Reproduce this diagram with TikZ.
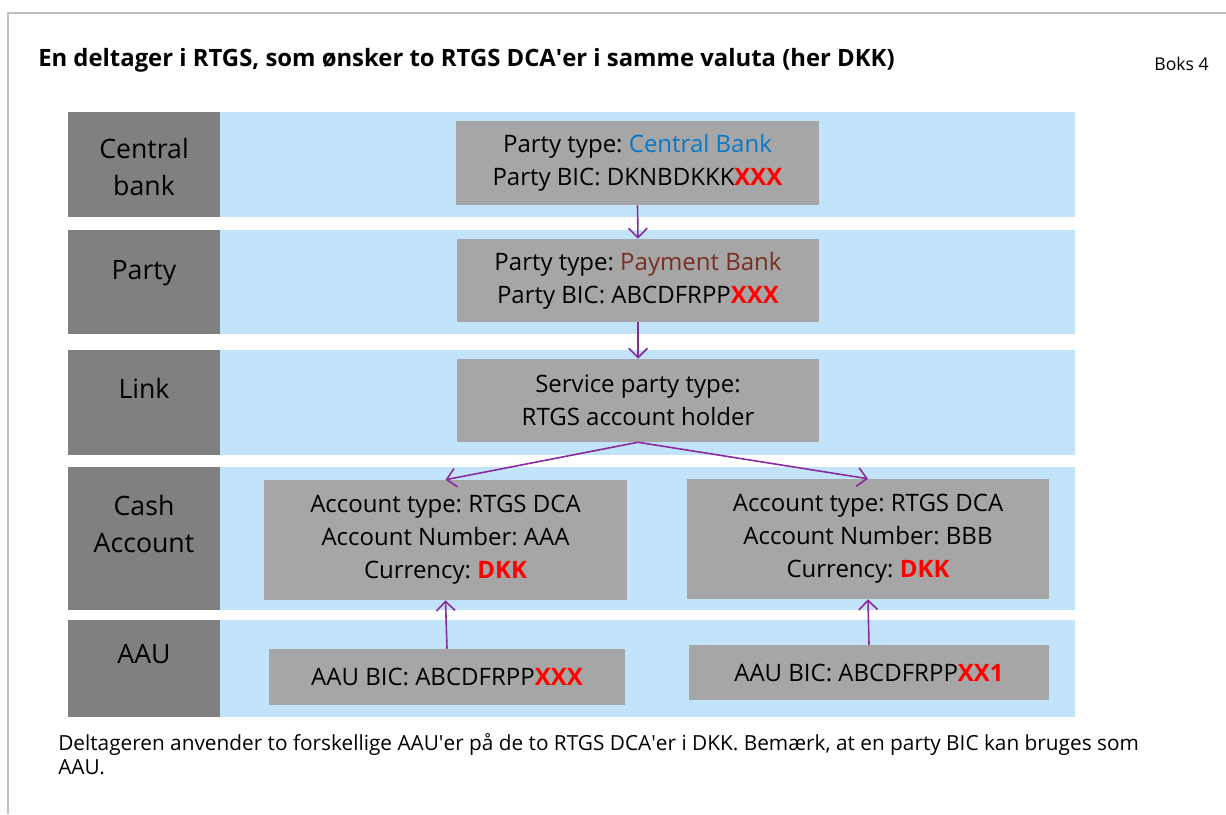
\documentclass[tikz,border=0pt]{standalone}
\usepackage{fontspec}
\setmainfont{Open Sans}
\usetikzlibrary{arrows.meta}
\definecolor{lblgray}{HTML}{808080}
\definecolor{bandblue}{HTML}{C2E4FA}
\definecolor{boxgray}{HTML}{A6A6A6}
\definecolor{arrowpurple}{HTML}{8B2A9E}
\definecolor{cbblue}{HTML}{0A78C8}
\definecolor{paybrown}{HTML}{7A2E22}
\definecolor{framegray}{HTML}{C0C0C0}
\definecolor{xred}{HTML}{FF0000}
\tikzset{
  band/.style={fill=bandblue, draw=none},
  lbl/.style={fill=lblgray, draw=none},
  lbltext/.style={align=center, font=\fontsize{20}{28}\selectfont, inner sep=0pt},
  infobox/.style={fill=boxgray, draw=none, align=center, inner sep=0pt, font=\fontsize{18}{24.75}\selectfont},
  link/.style={draw=arrowpurple, line width=1.2pt, -{Straight Barb[length=7pt,width=14pt,line width=1.2pt]}},
}
\newcommand{\redb}[1]{\textcolor{xred}{\textbf{#1}}}
\newcommand{\aq}{\textquotesingle}
\frenchspacing
\begin{document}
\begin{tikzpicture}[x=0.75pt, y=-0.75pt]
\useasboundingbox (0,0) rectangle (1226,814);
% frame
\draw[framegray, line width=1.5pt] (7.5,814) -- (7.5,12.5) -- (1226,12.5);
% title
\node[anchor=west, inner sep=0pt, font=\fontsize{17.9}{20}\selectfont\bfseries] (title) at (38,60) {En deltager i RTGS, som ønsker to RTGS DCA\aq er i samme valuta (her DKK)};
\node[anchor=east, inner sep=0pt, font=\fontsize{13.2}{16}\selectfont] (boks) at (1209,64) {Boks 4};
% rows
\fill[lbl] (68,112) rectangle (220,217);
\fill[band] (220,112) rectangle (1075,217);
\fill[lbl] (68,230) rectangle (220,334);
\fill[band] (220,230) rectangle (1075,334);
\fill[lbl] (68,350) rectangle (220,455);
\fill[band] (220,350) rectangle (1075,455);
\fill[lbl] (68,467) rectangle (220,610);
\fill[band] (220,467) rectangle (1075,610);
\fill[lbl] (68,620) rectangle (220,717);
\fill[band] (220,620) rectangle (1075,717);
% row labels
\node[lbltext] (lcb) at (144,167) {Central\\bank};
\node[lbltext] (lparty) at (144,273) {Party};
\node[lbltext] (llink) at (144,388) {Link};
\node[lbltext] (lcash) at (144,524) {Cash\\Account};
\node[lbltext] (laau) at (144,654) {AAU};
% boxes
\node[infobox, minimum width=363*0.75pt, minimum height=84*0.75pt] (cb) at (637.5,163)
  {Party type: \textcolor{cbblue}{Central Bank}\\Party BIC: DKNBDKKK\redb{XXX}};
\node[infobox, minimum width=362*0.75pt, minimum height=83*0.75pt] (party) at (638,280.5)
  {Party type: \textcolor{paybrown}{Payment Bank}\\Party BIC: ABCDFRPP\redb{XXX}};
\node[infobox, minimum width=362*0.75pt, minimum height=83*0.75pt] (link) at (638,400.5)
  {Service party type:\\RTGS account holder};
\node[infobox, minimum width=363*0.75pt, minimum height=120*0.75pt] (cash1) at (445.5,540)
  {Account type: RTGS DCA\\Account Number: AAA\\Currency: \redb{DKK}};
\node[infobox, minimum width=362*0.75pt, minimum height=120*0.75pt] (cash2) at (868,539)
  {Account type: RTGS DCA\\Account Number: BBB\\Currency: \redb{DKK}};
\node[infobox, minimum width=356*0.75pt, minimum height=56*0.75pt] (aau1) at (447,677)
  {AAU BIC: ABCDFRPP\redb{XXX}};
\node[infobox, minimum width=360*0.75pt, minimum height=55*0.75pt] (aau2) at (869,672.5)
  {AAU BIC: ABCDFRPP\redb{XX1}};
% connectors
\draw[link] (cb.south) -- (party.north);
\draw[link] (party.south) -- (link.north);
\draw[link] (link.south) -- (cash1.north);
\draw[link] (link.south) -- (cash2.north);
\draw[link] (aau1.north) -- (cash1.south);
\draw[link] (aau2.north) -- (cash2.south);
% footnote
\node[anchor=north west, align=left, inner sep=0pt, font=\fontsize{15.6}{18}\selectfont] (note) at (58,733)
  {Deltageren anvender to forskellige AAU\aq er på de to RTGS DCA\aq er i DKK. Bemærk, at en party BIC kan bruges som\\AAU.};
\end{tikzpicture}
\end{document}
